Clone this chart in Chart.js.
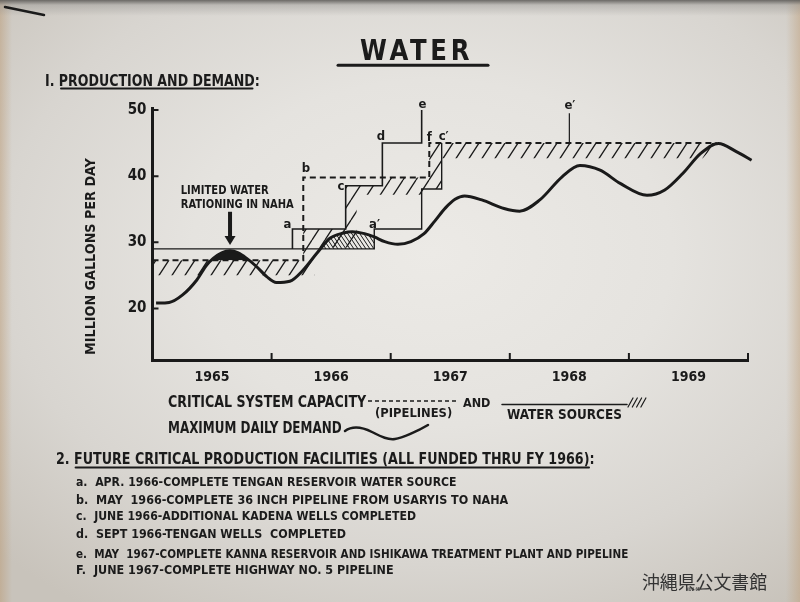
<!DOCTYPE html>
<html>
<head>
<meta charset="utf-8">
<title>Water - Production and Demand</title>
<script src="https://cdn.jsdelivr.net/npm/chart.js@4.4.1/dist/chart.umd.min.js"></script>
<style>
  html, body { margin:0; padding:0; }
  body { width:800px; height:602px; position:relative; overflow:hidden; background:#dedcd7;
    font-family:'DejaVu Sans Condensed','Liberation Sans Narrow','DejaVu Sans',sans-serif;
    font-weight:bold; color:#1b1b1b; }
  #paper { position:absolute; left:0; top:0; width:800px; height:602px;
    background:
      linear-gradient(to bottom, rgba(95,93,90,0.9) 0px, rgba(150,148,145,0.45) 5px, rgba(200,198,194,0) 16px),
      linear-gradient(to right, rgba(185,150,110,0.45) 0px, rgba(200,190,175,0) 12px),
      linear-gradient(to left, rgba(190,155,115,0.45) 0px, rgba(200,190,175,0) 14px),
      radial-gradient(ellipse 75% 72% at 54% 42%, #eceae6 0%, #e5e3df 40%, #d8d5d0 72%, #c8c3bb 100%);
  }
  #c { position:absolute; left:0; top:0; width:800px; height:602px; }
  #ov { position:absolute; left:0; top:0; }
  .t { position:absolute; white-space:pre; line-height:1; transform-origin:0 0; transform:scaleX(var(--s,1)); }
  .rot { transform:rotate(-90deg) scaleX(var(--s,1)); }
</style>
</head>
<body>
<div id="paper"></div>
<canvas id="c" width="800" height="602"></canvas>

<svg id="ov" width="800" height="602">
  <g stroke="#1b1b1b" fill="none" stroke-linecap="round">
    <line x1="5" y1="7" x2="44" y2="15" stroke-width="2.5"/>
    <line x1="338" y1="65.3" x2="488" y2="65.3" stroke-width="3"/>
    <line x1="61" y1="88.5" x2="252.5" y2="88.5" stroke-width="2"/>
    <line x1="75.6" y1="467.5" x2="589" y2="467.5" stroke-width="2"/>
    <line x1="368" y1="401" x2="459" y2="401" stroke-width="1.5" stroke-dasharray="4 3" stroke-linecap="butt"/>
    <line x1="502" y1="404.5" x2="627" y2="404.5" stroke-width="1.5"/>
    <line x1="628" y1="407" x2="633" y2="398" stroke-width="1.2"/>
    <line x1="632.3" y1="407" x2="637.3" y2="398" stroke-width="1.2"/>
    <line x1="636.6" y1="407" x2="641.6" y2="398" stroke-width="1.2"/>
    <line x1="640.9" y1="407" x2="645.9" y2="398" stroke-width="1.2"/>
    <path d="M345,431 C352,426 362,427 372,432 S388,440 395,439 S418,431 428,425" stroke-width="2.5"/>
  </g>
</svg>

<div class="t" style="left:360px;top:35.8px;font-size:29px;letter-spacing:4px" data-w="113">WATER</div>
<div class="t" style="left:45px;top:74.1px;font-size:15.5px" data-w="215">I. PRODUCTION AND DEMAND:</div>
<div class="t rot" style="left:83.4px;top:355px;font-size:14px" data-w="197">MILLION GALLONS PER DAY</div>

<div class="t" style="left:168.3px;top:393.8px;font-size:16px" data-w="198">CRITICAL SYSTEM CAPACITY</div>
<div class="t" style="left:375px;top:406px;font-size:13px" data-w="77">(PIPELINES)</div>
<div class="t" style="left:463px;top:396.5px;font-size:12.5px" data-w="27">AND</div>
<div class="t" style="left:506.7px;top:407.3px;font-size:14px" data-w="115">WATER SOURCES</div>
<div class="t" style="left:168px;top:421px;font-size:15.5px" data-w="174">MAXIMUM DAILY DEMAND</div>

<div class="t" style="left:55.8px;top:451.5px;font-size:15px" data-w="539">2. FUTURE CRITICAL PRODUCTION FACILITIES (ALL FUNDED THRU FY 1966):</div>
<div class="t" style="left:75.6px;top:475.8px;font-size:12.5px" data-w="381">a.  APR. 1966-COMPLETE TENGAN RESERVOIR WATER SOURCE</div>
<div class="t" style="left:75.6px;top:493.5px;font-size:12.5px" data-w="432">b.  MAY  1966-COMPLETE 36 INCH PIPELINE FROM USARYIS TO NAHA</div>
<div class="t" style="left:75.6px;top:510.2px;font-size:12.5px" data-w="340">c.  JUNE 1966-ADDITIONAL KADENA WELLS COMPLETED</div>
<div class="t" style="left:75.6px;top:527.5px;font-size:12.5px" data-w="270">d.  SEPT 1966-TENGAN WELLS  COMPLETED</div>
<div class="t" style="left:75.6px;top:547.5px;font-size:12.5px" data-w="552">e.  MAY  1967-COMPLETE KANNA RESERVOIR AND ISHIKAWA TREATMENT PLANT AND PIPELINE</div>
<div class="t" style="left:75.6px;top:564.2px;font-size:12.5px" data-w="318">F.  JUNE 1967-COMPLETE HIGHWAY NO. 5 PIPELINE</div>

<div class="t" style="left:641.7px;top:571.5px;font-size:18px;font-weight:normal;color:#333;font-family:'Noto Sans CJK JP','Noto Sans CJK SC',sans-serif" data-w="125">沖縄県公文書館</div>
<div class="t" style="left:686px;top:587px;font-size:5px;color:#444" data-w="14">NOV. 65</div>

<script>
// ---------- data ----------
const yearLabels = ['1965', '1966', '1967', '1968', '1969'];
const yTickValues = [20, 30, 40, 50];
const xBoundaryTicks = [1966, 1967, 1968, 1969, 1970];

// Maximum daily demand (million gallons per day)
const demandYears = [1965.03, 1965.14, 1965.25, 1965.372, 1965.455, 1965.51, 1965.581, 1965.651, 1965.72, 1965.791,
  1965.875, 1965.959, 1966.04, 1966.153, 1966.265, 1966.378, 1966.49, 1966.603, 1966.678, 1966.78,
  1966.862, 1966.95, 1967.06, 1967.17, 1967.28, 1967.37, 1967.46, 1967.54, 1967.62, 1967.765,
  1967.952, 1968.083, 1968.252, 1968.439, 1968.589, 1968.758, 1968.927, 1969.152, 1969.301, 1969.452,
  1969.601, 1969.751, 1969.902, 1970.03];
const demandMgd = [20.8, 20.9, 22.0, 24.3, 26.55, 27.56, 28.4, 28.7, 28.4, 27.56,
  26.3, 24.8, 23.9, 24.1, 25.8, 28.3, 30.6, 31.4, 31.6, 31.3,
  30.8, 30.1, 29.7, 30.1, 31.3, 33.2, 35.2, 36.5, 37.0, 36.4,
  35.1, 34.7, 36.4, 39.9, 41.6, 40.9, 38.9, 37.1, 37.9, 40.4,
  43.4, 44.95, 43.7, 42.4];

// Water sources as scheduled (a, c, d, e)
const plannedSourceYears = [1966.175, 1966.175, 1966.622, 1966.622, 1966.93, 1966.93, 1967.26, 1967.26];
const plannedSourceMgd = [29, 32, 32, 38.55, 38.55, 45, 45, 50];

// Water sources if delayed (a', c')
const delayedSourceYears = [1965, 1966.862, 1966.862, 1967.26, 1967.26, 1967.428, 1967.428];
const delayedSourceMgd = [29, 29, 32, 32, 38.05, 38.05, 45];

// e' marker
const ePrimeYears = [1968.5, 1968.5];
const ePrimeMgd = [45, 49.5];

// Critical system capacity - pipelines (b, f)
const pipelineYears = [1965, 1966.266, 1966.266, 1967.324, 1967.324, 1969.737];
const pipelineMgd = [27.3, 27.3, 39.8, 39.8, 45, 45];

// Hatched critical-capacity band
const bandTopYears = [1965, 1966.266, 1966.266, 1966.622, 1966.622, 1966.93, 1966.93, 1967.324, 1967.324, 1969.737];
const bandTopMgd = [27.3, 27.3, 32, 32, 38.55, 38.55, 39.8, 39.8, 45, 45];
const bandBottomYears = [1965, 1966.36, 1966.36, 1966.714, 1966.714, 1967.324, 1967.324, 1967.428, 1967.428, 1969.62];
const bandBottomMgd = [25, 25, 29.2, 29.2, 37.2, 37.2, 38.05, 38.05, 42.7, 42.7];

// Shaded shortfall windows
const rationingLevel = pipelineMgd[0];
const rationingWindow = [1965.4, 1965.9];
const shortfallLevel = delayedSourceMgd[0];
const shortfallWindow = [1966.35, delayedSourceYears[1]];

// ---------- annotations ----------
const pointLabels = [
  { text: 'a', x: 1966.134, y: 32.6 },
  { text: 'b', x: 1966.289, y: 41.07 },
  { text: 'c', x: 1966.583, y: 38.35 },
  { text: 'd', x: 1966.919, y: 45.96 },
  { text: 'e', x: 1967.267, y: 50.83 },
  { text: 'f', x: 1967.323, y: 45.84 },
  { text: 'c′', x: 1967.445, y: 45.96 },
  { text: 'a′', x: 1966.864, y: 32.6 },
  { text: 'e′', x: 1968.505, y: 50.6 }
];
const noteLines = [
  { text: 'LIMITED WATER', x: 1965.237, y: 37.82, w: 88 },
  { text: 'RATIONING IN NAHA', x: 1965.237, y: 35.67, w: 113 }
];
const arrowNote = { x: 1965.651, from: 34.61, to: 29.58 };

// ---------- helpers ----------
const ink = '#1a1a1a';
const fam = "'DejaVu Sans Condensed','Liberation Sans Narrow','DejaVu Sans',sans-serif";
const pts = (xs, ys) => xs.map((x, i) => ({ x: x, y: ys[i] }));
const demand = pts(demandYears, demandMgd);
const bandPolygon = pts(bandTopYears, bandTopMgd).concat(pts(bandBottomYears, bandBottomMgd).reverse());

function makeHatch(w, h, lw, back) {
  const c = document.createElement('canvas');
  c.width = w; c.height = h;
  const g = c.getContext('2d');
  g.strokeStyle = ink; g.lineWidth = lw;
  g.beginPath();
  for (let k = -1; k <= 1; k++) {
    if (back) { g.moveTo(k * w, 0); g.lineTo(k * w + w, h); }
    else { g.moveTo(k * w, h); g.lineTo(k * w + w, 0); }
  }
  g.stroke();
  return g.createPattern(c, 'repeat');
}
const hatch = makeHatch(13, 20, 1.3, false);
const denseHatch = makeHatch(4, 6, 1.0, true);

const axisTicks = {
  id: 'axisTicks',
  afterDraw(chart) {
    const { ctx, chartArea: a, scales } = chart;
    ctx.save();
    ctx.strokeStyle = ink; ctx.lineWidth = 2;
    ctx.beginPath();
    xBoundaryTicks.forEach(v => {
      const px = scales.x.getPixelForValue(v);
      ctx.moveTo(px, a.bottom); ctx.lineTo(px, a.bottom - 7);
    });
    yTickValues.forEach(v => {
      const py = scales.y.getPixelForValue(v);
      ctx.moveTo(a.left, py); ctx.lineTo(a.left + 6, py);
    });
    ctx.stroke();
    ctx.restore();
  }
};

const notes = {
  id: 'notes',
  afterDatasetsDraw(chart) {
    const { ctx, scales } = chart;
    const X = v => scales.x.getPixelForValue(v), Y = v => scales.y.getPixelForValue(v);
    ctx.save();
    ctx.fillStyle = ink;
    ctx.textAlign = 'center'; ctx.textBaseline = 'middle';
    ctx.font = 'bold 13px ' + fam;
    pointLabels.forEach(l => ctx.fillText(l.text, X(l.x), Y(l.y)));
    ctx.textAlign = 'left';
    ctx.font = 'bold 12.5px ' + fam;
    noteLines.forEach(n => {
      const mw = ctx.measureText(n.text).width;
      ctx.save();
      ctx.translate(X(n.x), Y(n.y));
      ctx.scale(n.w / mw, 1);
      ctx.fillText(n.text, 0, 0);
      ctx.restore();
    });
    const ax = X(arrowNote.x), y1 = Y(arrowNote.from), y2 = Y(arrowNote.to);
    ctx.strokeStyle = ink; ctx.lineWidth = 4;
    ctx.beginPath(); ctx.moveTo(ax, y1); ctx.lineTo(ax, y2 - 7); ctx.stroke();
    ctx.beginPath(); ctx.moveTo(ax - 5.5, y2 - 9); ctx.lineTo(ax + 5.5, y2 - 9); ctx.lineTo(ax, y2); ctx.closePath(); ctx.fill();
    ctx.restore();
  }
};

const base = { xAxisID: 'x', yAxisID: 'y', pointRadius: 0, borderColor: ink, fill: false };

new Chart(document.getElementById('c'), {
  type: 'line',
  data: {
    datasets: [
      Object.assign({}, base, { label: 'Maximum daily demand', data: demand, borderWidth: 3,
        cubicInterpolationMode: 'monotone', clip: 8 }),
      Object.assign({}, base, { label: 'Water sources (scheduled)', data: pts(plannedSourceYears, plannedSourceMgd), borderWidth: 1.6 }),
      Object.assign({}, base, { label: 'Water sources (delayed)', data: pts(delayedSourceYears, delayedSourceMgd), borderWidth: 1.4 }),
      Object.assign({}, base, { label: "e'", data: pts(ePrimeYears, ePrimeMgd), borderWidth: 1.2 }),
      Object.assign({}, base, { label: 'Critical system capacity (pipelines)', data: pts(pipelineYears, pipelineMgd),
        borderWidth: 2, borderDash: [6, 4] }),
      Object.assign({}, base, { label: 'Limited water rationing',
        data: demand.filter(p => p.x >= rationingWindow[0] && p.x <= rationingWindow[1]),
        borderWidth: 0, borderColor: 'rgba(0,0,0,0)', cubicInterpolationMode: 'monotone',
        fill: { target: { value: rationingLevel }, above: ink, below: 'rgba(0,0,0,0)' } }),
      Object.assign({}, base, { label: 'Shortfall',
        data: demand.filter(p => p.x >= shortfallWindow[0] && p.x <= shortfallWindow[1]),
        borderWidth: 0, borderColor: 'rgba(0,0,0,0)', cubicInterpolationMode: 'monotone',
        fill: { target: { value: shortfallLevel }, above: denseHatch, below: 'rgba(0,0,0,0)' } }),
      Object.assign({}, base, { label: 'Critical capacity band', data: bandPolygon,
        borderWidth: 0, borderColor: 'rgba(0,0,0,0)', borderDash: [1, 0], fill: 'shape', backgroundColor: hatch })
    ]
  },
  options: {
    responsive: false,
    animation: false,
    events: [],
    layout: { padding: { left: 102.5, right: 52, top: 108, bottom: 212 } },
    plugins: { legend: { display: false }, tooltip: { enabled: false } },
    scales: {
      x: { type: 'linear', min: 1965, max: 1970, display: false },
      years: {
        type: 'category', labels: yearLabels, offset: true, position: 'bottom',
        grid: { display: true, drawOnChartArea: false, drawTicks: false, color: 'rgba(0,0,0,0)' },
        border: { display: true, width: 3, color: ink },
        ticks: { font: { family: fam, size: 14, weight: 'bold' }, color: ink, padding: 9, maxRotation: 0, autoSkip: false },
        afterFit(s) { s.height = 30; }
      },
      y: {
        type: 'linear', min: 12.2, max: 50.3,
        afterBuildTicks(s) { s.ticks = yTickValues.map(v => ({ value: v })); },
        afterFit(s) { s.width = 50; },
        grid: { display: true, drawOnChartArea: false, drawTicks: false, color: 'rgba(0,0,0,0)' },
        border: { display: true, width: 3, color: ink },
        ticks: { font: { family: fam, size: 15, weight: 'bold' }, color: ink, padding: 6 }
      }
    }
  },
  plugins: [notes, axisTicks]
});

// fit HTML text runs to their measured widths in the original
document.querySelectorAll('.t[data-w]').forEach(el => {
  el.style.setProperty('--s', 1);
  const w = el.scrollWidth || el.getBoundingClientRect().width;
  if (w > 0) el.style.setProperty('--s', (parseFloat(el.dataset.w) / w).toFixed(4));
});
</script>
</body>
</html>
